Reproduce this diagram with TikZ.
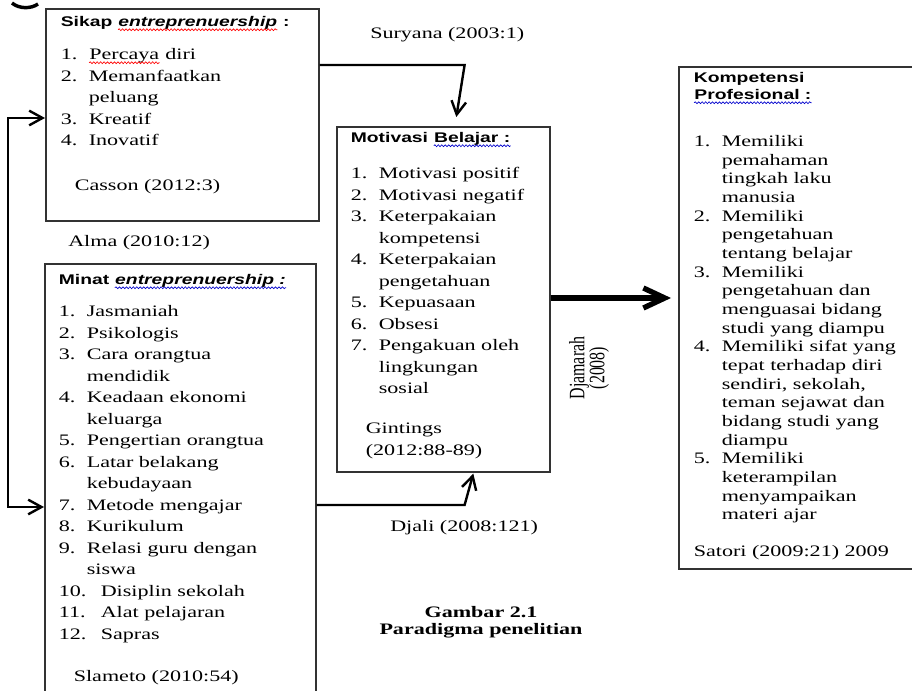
\documentclass[tikz,border=0pt]{standalone}
\usepackage{fontspec}
\setmainfont{Liberation Serif}[FakeStretch=1.38]
\newfontfamily\judul{Liberation Sans}[FakeStretch=1.38]
\newfontfamily\tegak{Liberation Serif}[FakeStretch=0.725]
\usetikzlibrary{arrows.meta, calc, decorations.pathmorphing}

\newlength{\px}
\setlength{\px}{0.75pt}

% garis berombak ejaan
\newcommand{\ombak}[2]{\tikz[baseline=(kata.base)]{\node[inner sep=0pt, anchor=base, rotate=0] (kata) {#2};
  \draw[#1, line width=0.5pt, decorate, decoration={snake, amplitude=0.7pt, segment length=2.6pt}] ([yshift=-2.2pt]kata.base west) -- ([yshift=-2.2pt]kata.base east);}}
\newcommand{\salah}[1]{\ombak{red}{#1}}
\newcommand{\tatabahasa}[1]{\ombak{blue!80!black}{#1}}

\newcommand{\isi}[5][16.125]{\parbox[c][#3\px][t]{#2\px}{\fontsize{12}{#1}\selectfont\raggedright\leftskip=#4\px\parindent=0pt\parskip=0pt #5}}
\newcommand{\butir}[3][28]{\par\hangindent=#1\px\hangafter=1\makebox[#1\px][l]{#2}#3}
\newcommand{\judulkotak}[1]{{\judul\bfseries\fontsize{10.5}{12.75}\selectfont #1\par}}

\tikzset{
  kotak/.style={draw=black!80, line width=1.2pt, inner sep=0pt, anchor=north west},
  teks/.style={inner sep=0pt, anchor=west, font=\fontsize{12}{16}\selectfont},
  panah/.style={line width=1.8pt, -{Straight Barb[length=10pt, width=11pt]}},
  panah dua/.style={line width=1.8pt, {Straight Barb[length=10pt, width=11pt]}-{Straight Barb[length=10pt, width=11pt]}},
  panah tebal/.style={line width=4pt, -{Straight Barb[length=16pt, width=15pt]}},
}

\begin{document}
\begin{tikzpicture}[x=0.75pt, y=-0.75pt]
        \useasboundingbox (0,0) rectangle (912,691);
        \draw[line width=2.6pt] (12,3) .. controls (19,9) and (31,9) .. (38,4);

        % kotak
        \node[kotak] (sikap) at (45,8) {\isi{273}{212}{15}{%
          \judulkotak{\rule{0pt}{18\px}Sikap \textit{\salah{entreprenuership}} :}
          \vspace{11.5\px}
          \butir{1.}{\salah{Percaya} diri}
          \butir{2.}{Memanfaatkan\newline peluang}
          \butir{3.}{Kreatif}
          \butir{4.}{Inovatif}\par
          \vspace{23.5\px}
          \hspace*{14\px}Casson (2012:3)}};
        \node[kotak] (minat) at (44,263) {\isi{271}{440}{14}{%
          \judulkotak{\rule{0pt}{21\px}Minat \textit{\tatabahasa{entreprenuership :}}}
          \vspace{10.5\px}
          \butir{1.}{Jasmaniah}
          \butir{2.}{Psikologis}
          \butir{3.}{Cara orangtua\newline mendidik}
          \butir{4.}{Keadaan ekonomi\newline keluarga}
          \butir{5.}{Pengertian orangtua}
          \butir{6.}{Latar belakang\newline kebudayaan}
          \butir{7.}{Metode mengajar}
          \butir{8.}{Kurikulum}
          \butir{9.}{Relasi guru dengan\newline siswa}
          \butir[42]{10.}{Disiplin sekolah}
          \butir[42]{11.}{Alat pelajaran}
          \butir[42]{12.}{Sapras}\par
          \vspace{21\px}
          \hspace*{15\px}Slameto (2010:54)}};
        \node[kotak] (motivasi) at (336,126) {\isi{213}{345}{14}{%
          \judulkotak{\rule{0pt}{16\px}Motivasi \tatabahasa{Belajar :}}
          \vspace{14.5\px}
          \butir{1.}{Motivasi positif}
          \butir{2.}{Motivasi negatif}
          \butir{3.}{Keterpakaian\newline kompetensi}
          \butir{4.}{Keterpakaian\newline pengetahuan}
          \butir{5.}{Kepuasaan}
          \butir{6.}{Obsesi}
          \butir{7.}{Pengakuan oleh\newline lingkungan\newline sosial}\par
          \vspace{18.5\px}
          \hspace*{15\px}Gintings\newline\hspace*{15\px}(2012:88-89)}};
        \node[kotak] (kompetensi) at (678,66) {\isi[14]{240}{502}{15}{%
          \judulkotak{\rule{0pt}{16\px}Kompetensi\\\tatabahasa{Profesional :}}
          \vspace{28\px}
          \butir{1.}{Memiliki\newline pemahaman\newline tingkah laku\newline manusia}
          \butir{2.}{Memiliki\newline pengetahuan\newline tentang belajar}
          \butir{3.}{Memiliki\newline pengetahuan dan\newline menguasai bidang\newline studi yang diampu}
          \butir{4.}{Memiliki sifat yang\newline tepat terhadap diri\newline sendiri, sekolah,\newline teman sejawat dan\newline bidang studi yang\newline diampu}
          \butir{5.}{Memiliki\newline keterampilan\newline menyampaikan\newline materi ajar}\par
          \vspace{17.8\px}
          Satori (2009:21) 2009}};

        % sumber
        \node[teks] (suryana) at (370,35) {Suryana (2003:1)};
        \node[teks] (alma) at (68,243) {Alma (2010:12)};
        \node[teks] (djali) at (390,528) {Djali (2008:121)};
        \node[rotate=90, align=center, inner sep=0pt, font=\tegak\fontsize{16.5}{15}\selectfont] (djamarah) at (589,368) {Djamarah\\(2008)};
        \node[align=center, inner sep=0pt, font=\bfseries\fontsize{12}{13}\selectfont] (gambar) at (481,622) {Gambar 2.1\\Paradigma penelitian};

        % panah
        \draw[panah] ($(sikap.north east)+(0,57)$) -- ++(145,0) -- ($(motivasi.north)+(13,-9)$);
        \draw[panah] ($(minat.north east)+(0,242)$) -- ++(148,0) -- ($(motivasi.south)+(30,1)$);
        \draw[panah dua] ($(sikap.north west)+(0,110)$) -- ++(-37,0) |- ($(minat.north west)+(0,244)$);
        \draw[panah tebal] ($(motivasi.north east)+(0,172)$) -- ($(kompetensi.north west)+(-7,232)$);

\end{tikzpicture}
\end{document}
